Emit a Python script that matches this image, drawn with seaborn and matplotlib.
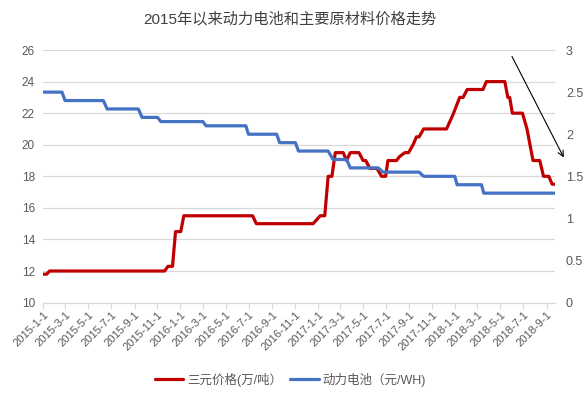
import numpy as np
import pandas as pd
import matplotlib
matplotlib.use("Agg")
import matplotlib.pyplot as plt
import matplotlib.dates as mdates
import matplotlib.ticker as mticker
import seaborn as sns

# Series values (corner points of the step lines)
ternary_dates = [
    "2015-01-01", "2015-01-10", "2015-01-18", "2015-11-20", "2015-11-29",
    "2015-12-11", "2015-12-19", "2016-01-02", "2016-01-10", "2016-07-11",
    "2016-07-21", "2016-12-19", "2017-01-07", "2017-01-19", "2017-01-28",
    "2017-02-07", "2017-02-16", "2017-03-09", "2017-03-18", "2017-03-28",
    "2017-04-20", "2017-05-01", "2017-05-08", "2017-05-19", "2017-06-07",
    "2017-06-19", "2017-06-30", "2017-07-06", "2017-07-29", "2017-08-06",
    "2017-08-20", "2017-08-30", "2017-09-11", "2017-09-20", "2017-09-27",
    "2017-10-09", "2017-12-09", "2017-12-26", "2018-01-13", "2018-01-22",
    "2018-02-02", "2018-03-16", "2018-03-25", "2018-05-13", "2018-05-21",
    "2018-05-26", "2018-06-02", "2018-06-29", "2018-07-11", "2018-07-27",
    "2018-08-14", "2018-08-24", "2018-09-07", "2018-09-16", "2018-09-22",
]
ternary_price = [
    11.8, 11.8, 12.0, 12.0, 12.3,
    12.3, 14.5, 14.5, 15.5, 15.5,
    15.0, 15.0, 15.5, 15.5, 18.0,
    18.0, 19.5, 19.5, 19.0, 19.5,
    19.5, 19.0, 19.0, 18.5, 18.5,
    18.0, 18.0, 19.0, 19.0, 19.25,
    19.5, 19.5, 20.0, 20.5, 20.5,
    21.0, 21.0, 21.9, 23.0, 23.0,
    23.5, 23.5, 24.0, 24.0, 23.0,
    23.0, 22.0, 22.0, 21.0, 19.0,
    19.0, 18.0, 18.0, 17.5, 17.5,
]

battery_dates = [
    "2015-01-01", "2015-02-20", "2015-02-28", "2015-06-10", "2015-06-20",
    "2015-09-11", "2015-09-21", "2015-11-01", "2015-11-10", "2016-03-01",
    "2016-03-09", "2016-06-23", "2016-06-30", "2016-09-13", "2016-09-21",
    "2016-11-02", "2016-11-10", "2017-01-28", "2017-02-10", "2017-03-18",
    "2017-03-28", "2017-06-10", "2017-06-23", "2017-09-27", "2017-10-09",
    "2017-12-31", "2018-01-06", "2018-03-12", "2018-03-18", "2018-09-23",
]
battery_price = [
    2.5, 2.5, 2.4, 2.4, 2.3,
    2.3, 2.2, 2.2, 2.15, 2.15,
    2.1, 2.1, 2.0, 2.0, 1.9,
    1.9, 1.8, 1.8, 1.7, 1.7,
    1.6, 1.6, 1.55, 1.55, 1.5,
    1.5, 1.4, 1.4, 1.3, 1.3,
]

title = "2015年以来动力电池和主要原材料价格走势"
ternary_label = "三元价格(万/吨）"
battery_label = "动力电池（元/WH)"

red = "#C00000"
blue = "#4472C4"
grid_col = "#D9D9D9"
text_col = "#595959"

sns.set_style("white")
plt.rcParams["font.family"] = ["Liberation Sans", "Noto Sans CJK SC", "DejaVu Sans"]

fig = plt.figure(figsize=(5.84, 3.94), dpi=100)
ax = fig.add_axes([0.074, 0.232, 0.876, 0.641])
ax2 = ax.twinx()

sns.lineplot(x=pd.to_datetime(ternary_dates), y=ternary_price, ax=ax,
             color=red, linewidth=2.3, label=ternary_label, legend=False)
sns.lineplot(x=pd.to_datetime(battery_dates), y=battery_price, ax=ax2,
             color=blue, linewidth=2.3, label=battery_label, legend=False)

# left axis
ax.set_ylim(10, 26)
ax.set_yticks(np.arange(10, 27, 2))
ax.yaxis.grid(True, color=grid_col, linewidth=0.9)
ax.set_axisbelow(True)
ax.tick_params(axis="y", length=0, labelsize=8.5, labelcolor=text_col, pad=6)

# right axis
ax2.set_ylim(0, 3)
ax2.set_yticks([0, 0.5, 1, 1.5, 2, 2.5, 3])
ax2.yaxis.set_major_formatter(mticker.FuncFormatter(lambda v, p: f"{v:g}"))
ax2.tick_params(axis="y", length=0, labelsize=9, labelcolor=text_col, pad=8)
ax2.grid(False)

# date axis
ax.set_xlim(pd.Timestamp("2015-01-01"), pd.Timestamp("2018-09-23"))
ax.xaxis.set_major_locator(mdates.MonthLocator(bymonth=[1, 3, 5, 7, 9, 11]))
ax.xaxis.set_major_formatter(
    mticker.FuncFormatter(lambda v, p: "{0.year}-{0.month}-{0.day}".format(mdates.num2date(v))))
ax.tick_params(axis="x", length=4, width=0.8, color=grid_col, direction="out",
               labelsize=8, labelcolor=text_col, pad=1, bottom=True)
for lbl in ax.get_xticklabels():
    lbl.set_rotation(45)
    lbl.set_ha("right")
    lbl.set_rotation_mode("anchor")

for a in (ax, ax2):
    for side in ("left", "right", "top"):
        a.spines[side].set_visible(False)
    a.set_xlabel("")
    a.set_ylabel("")
ax2.spines["bottom"].set_visible(False)
ax.spines["bottom"].set_color(grid_col)
ax.spines["bottom"].set_linewidth(0.9)

fig.suptitle(title, x=0.497, y=0.97, fontsize=11, color="#404040")

h1, l1 = ax.get_legend_handles_labels()
h2, l2 = ax2.get_legend_handles_labels()
fig.legend(h1 + h2, l1 + l2, loc="center", bbox_to_anchor=(0.497, 0.036), ncol=2,
           frameon=False, fontsize=9, labelcolor=text_col, handlelength=2.3,
           columnspacing=0.6, handletextpad=0.3)

# downward trend arrow
fig.add_artist(matplotlib.patches.FancyArrowPatch(
    (0.8745, 0.863), (0.9675, 0.594), transform=fig.transFigure,
    arrowstyle="->", mutation_scale=10, color="black", linewidth=0.8))

fig.savefig("out.png", dpi=100)
